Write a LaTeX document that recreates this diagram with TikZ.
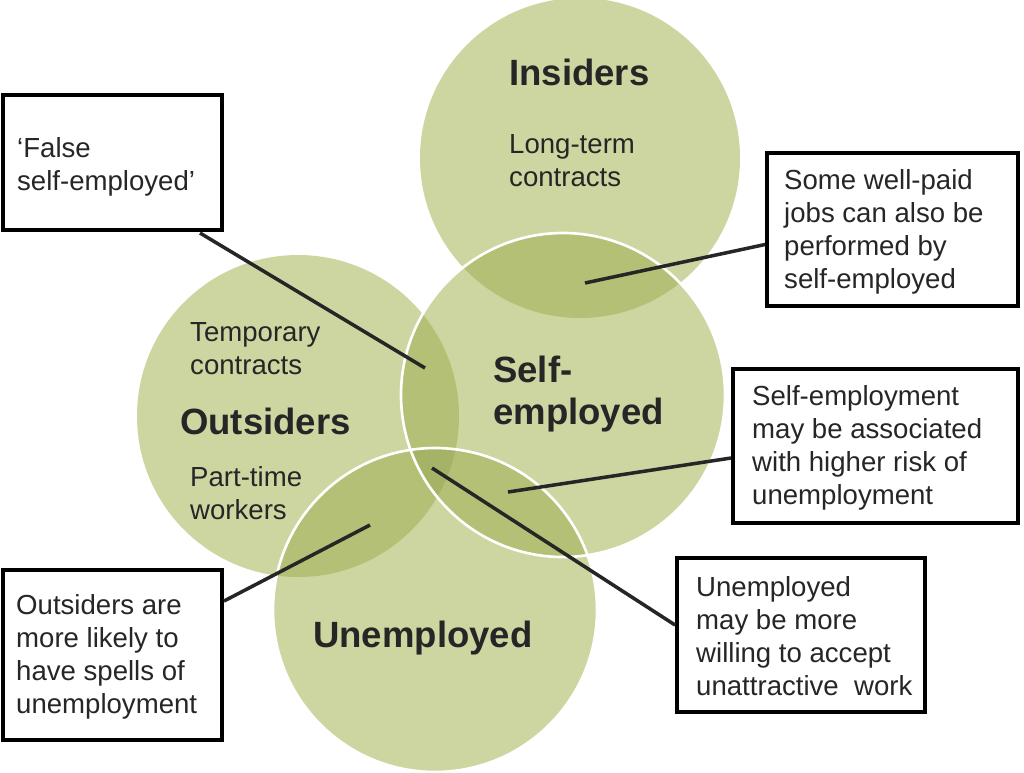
\documentclass[tikz,border=0pt]{standalone}
\usepackage{fontspec}
\setmainfont{Liberation Sans}
\begin{document}
\begin{tikzpicture}[x=0.02cm,y=-0.02cm,
  box/.style={draw=black,line width=2.2pt,fill=white,inner sep=0pt},
  txt/.style={font=\fontsize{15.7}{18.8}\selectfont,align=left,text=black!85},
  head/.style={font=\fontsize{20.8}{24}\selectfont\bfseries,align=left,text=black!85},
  con/.style={line width=2pt,black!85}]
\definecolor{lt}{HTML}{CDD6A1}
\definecolor{dk}{HTML}{B3C075}
\definecolor{dk2}{HTML}{A5B366}
\useasboundingbox (0,0) rectangle (1024,772);
\def\cI{(580,158) circle[radius=160]}
\def\cS{(563,395) circle[radius=162]}
\def\cO{(298,416) circle[radius=161]}
\def\cU{(435,610) circle[radius=162]}
\fill[lt] \cI; \fill[lt] \cS; \fill[lt] \cO; \fill[lt] \cU;
\begin{scope}\clip \cI; \fill[dk] \cS; \end{scope}
\begin{scope}\clip \cO; \fill[dk] \cS; \end{scope}
\begin{scope}\clip \cO; \fill[dk] \cU; \end{scope}
\begin{scope}\clip \cS; \fill[dk] \cU; \end{scope}
\begin{scope}\clip \cS; \clip \cO; \fill[dk2] \cU; \end{scope}
\draw[white,line width=1.5pt] \cS; \draw[white,line width=1.5pt] \cU;
\node[head,anchor=west] (hI) at (503,72) {Insiders};
\node[txt,anchor=west] (tI) at (503,161) {Long-term\\contracts};
\node[head,anchor=west] (hS) at (487,394) {Self-\\employed};
\node[head,anchor=west] (hO) at (174,421) {Outsiders};
\node[txt,anchor=west] (tO1) at (184,349) {Temporary\\contracts};
\node[txt,anchor=west] (tO2) at (184,493) {Part-time\\workers};
\node[head,anchor=west] (hU) at (307,638) {Unemployed};
\coordinate (p1) at (425,368);
\coordinate (p2) at (585,283);
\coordinate (p3) at (508,492);
\coordinate (p4) at (432,468);
\coordinate (p5) at (370,525);
\node[box,minimum width=219*0.02cm,minimum height=135*0.02cm] (b1) at (112.5,162.5) {};
\node[txt,anchor=north west] (t1) at (11,131) {‘False\\self-employed’};
\node[box,minimum width=251*0.02cm,minimum height=153*0.02cm] (b2) at (892.5,229.5) {};
\node[txt,anchor=west] (t2) at (778,232) {Some well-paid\\jobs can also be\\performed by\\self-employed};
\node[box,minimum width=285*0.02cm,minimum height=154*0.02cm] (b3) at (875.5,446) {};
\node[txt,anchor=west] (t3) at (746,448) {Self-employment\\may be associated\\with higher risk of\\unemployment};
\node[box,minimum width=248*0.02cm,minimum height=154*0.02cm] (b4) at (801,635) {};
\node[txt,anchor=west] (t4) at (690,636) {Unemployed\\may be more\\willing to accept\\unattractive\ \ work};
\node[box,minimum width=219*0.02cm,minimum height=170*0.02cm] (b5) at (112.5,655) {};
\node[txt,anchor=west] (t5) at (10,657) {Outsiders are\\more likely to\\have spells of\\unemployment};
\draw[con] (200,233) -- (p1);
\draw[con] (b2.west) ++(0,15) -- (p2);
\draw[con] (b3.west) ++(0,12) -- (p3);
\draw[con] (b4.west) ++(0,-10) -- (p4);
\draw[con] (b5.north east) ++(0,33) -- (p5);
\end{tikzpicture}
\end{document}
